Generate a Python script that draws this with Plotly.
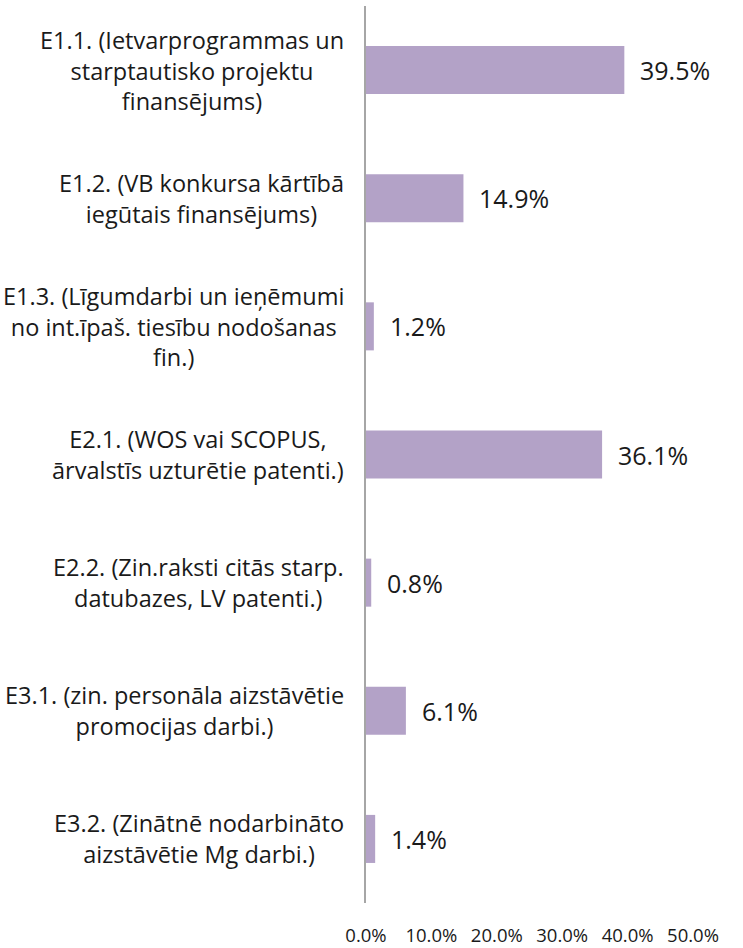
import plotly.graph_objects as go

categories = [
    "E1.1. (Ietvarprogrammas un<br>starptautisko projektu<br>finansējums)",
    "E1.2. (VB konkursa kārtībā<br>iegūtais finansējums)",
    "E1.3. (Līgumdarbi un ieņēmumi<br>no int.īpaš. tiesību nodošanas<br>fin.)",
    "E2.1. (WOS vai SCOPUS,<br>ārvalstīs uzturētie patenti.)",
    "E2.2. (Zin.raksti citās starp.<br>datubazes, LV patenti.)",
    "E3.1. (zin. personāla aizstāvētie<br>promocijas darbi.)",
    "E3.2. (Zinātnē nodarbināto<br>aizstāvētie Mg darbi.)",
]
values = [39.5, 14.9, 1.2, 36.1, 0.8, 6.1, 1.4]
tick_vals = [0, 10, 20, 30, 40, 50]
tick_text = ["0.0%", "10.0%", "20.0%", "30.0%", "40.0%", "50.0%"]

FONT = "Candara, 'Open Sans', sans-serif"
TXT = "#1a1a1a"

fig = go.Figure(go.Bar(
    x=values, y=categories, orientation="h",
    marker=dict(color="#B3A2C7", line=dict(width=0)),
    width=0.375,
    hoverinfo="skip",
))

for c, v in zip(categories, values):
    fig.add_annotation(x=v, y=c, xref="x", yref="y", text=f"{v:.1f}%",
                       showarrow=False, xanchor="left", xshift=14,
                       font=dict(family=FONT, size=25, color=TXT))
    fig.add_annotation(x=0, y=c, xref="paper", yref="y", text=c,
                       showarrow=False, xanchor="right", align="center",
                       xshift=-20, font=dict(family=FONT, size=23.5, color=TXT))

fig.update_layout(
    width=743, height=948,
    margin=dict(l=366, r=50, t=6, b=45, autoexpand=False),
    plot_bgcolor="white", paper_bgcolor="white",
    showlegend=False,
    bargap=0.625,
)
fig.update_xaxes(range=[0, 50], tickvals=tick_vals, ticktext=tick_text,
                 showgrid=False, zeroline=False, showline=False, ticks="",
                 automargin=False, ticklabelstandoff=19,
                 tickfont=dict(family=FONT, size=18.5, color=TXT))
fig.update_yaxes(categoryorder="array", categoryarray=categories,
                 autorange="reversed", showticklabels=False, automargin=False,
                 showgrid=False, zeroline=False, showline=True,
                 linecolor="#A6A6A6", linewidth=1.5, ticks="")

fig.write_html("out.html", config={"displayModeBar": False},
               post_script="document.body.style.margin='0';document.body.style.overflow='hidden';")
